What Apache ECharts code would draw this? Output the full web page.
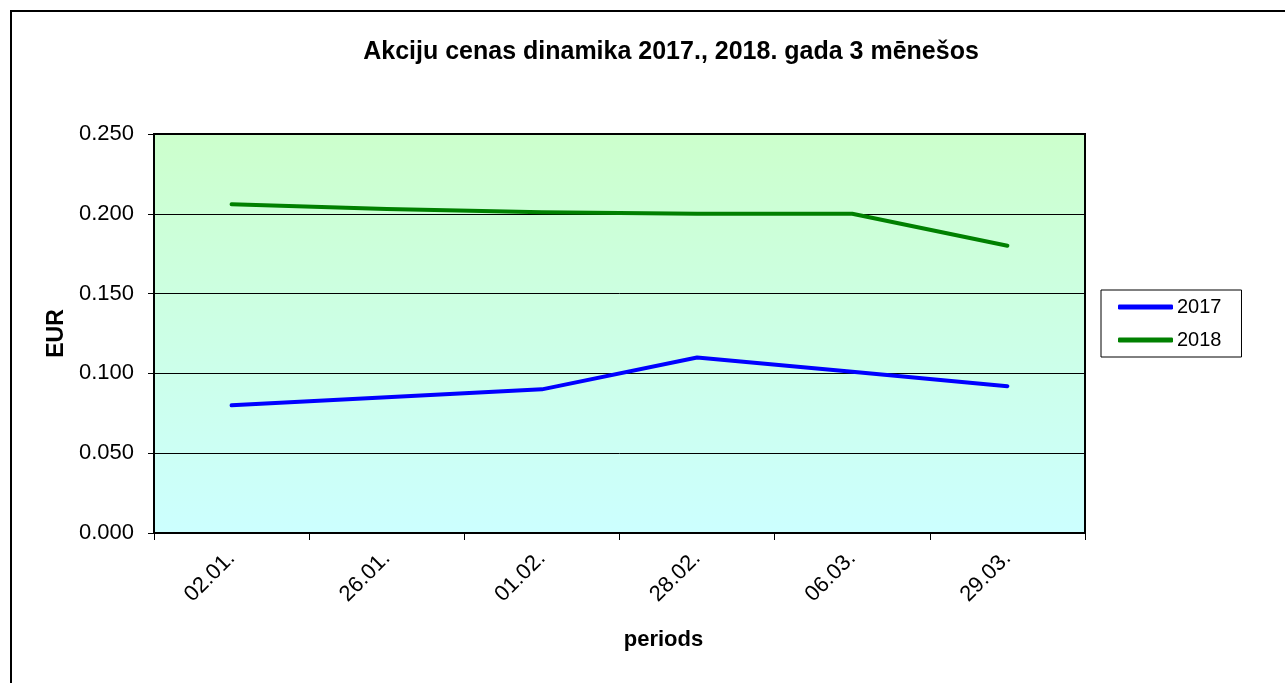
<!DOCTYPE html>
<html>
<head>
<meta charset="utf-8">
<script src="https://cdn.jsdelivr.net/npm/echarts@6/dist/echarts.min.js"></script>
<style>
html,body{margin:0;padding:0;background:#fff;}
#c{width:1285px;height:683px;}
</style>
</head>
<body>
<div id="c"></div>
<script>
var categories = ['02.01.', '26.01.', '01.02.', '28.02.', '06.03.', '29.03.'];
var values2017 = [0.080, 0.085, 0.090, 0.110, 0.101, 0.092];
var values2018 = [0.206, 0.203, 0.201, 0.200, 0.200, 0.180];
var yTicks = { min: 0, max: 0.25, interval: 0.05 };

var FONT = '"Liberation Sans", Arial, sans-serif';
var chart = echarts.init(document.getElementById('c'));
chart.setOption({
  animation: false,
  backgroundColor: '#fff',
  title: {
    text: 'Akciju cenas dinamika 2017., 2018. gada 3 mēnešos',
    left: 666,
    textAlign: 'center',
    top: 35,
    textStyle: { fontFamily: FONT, fontSize: 25, fontWeight: 'bold', color: '#000' }
  },
  graphic: [{
    type: 'rect',
    shape: { x: 11, y: 11, width: 1400, height: 800 },
    style: { fill: 'none', stroke: '#000', lineWidth: 2 },
    silent: true
  }],
  legend: {
    orient: 'vertical',
    left: 1101,
    top: 290,
    padding: [6, 20, 6, 17],
    itemWidth: 55,
    itemHeight: 5,
    itemGap: 11,
    icon: 'roundRect',
    borderColor: '#000',
    borderWidth: 1,
    backgroundColor: '#fff',
    textStyle: { fontFamily: FONT, fontSize: 20, color: '#000', lineHeight: 22, padding: [0, 0, 0, -1] },
    data: ['2017', '2018']
  },
  grid: {
    left: 154, top: 134, width: 931, height: 399,
    show: true,
    borderColor: '#000',
    borderWidth: 2,
    backgroundColor: {
      type: 'linear', x: 0, y: 0, x2: 0, y2: 1,
      colorStops: [{ offset: 0, color: '#CCFFCC' }, { offset: 1, color: '#CCFFFF' }]
    },
    containLabel: false
  },
  xAxis: {
    type: 'category',
    data: categories,
    boundaryGap: true,
    name: 'periods',
    nameLocation: 'middle',
    nameGap: 96,
    nameTextStyle: { fontFamily: FONT, fontSize: 22, fontWeight: 'bold', color: '#000', padding: [0, 0, 0, 88] },
    axisLine: { lineStyle: { color: '#000', width: 2 } },
    axisTick: { show: true, length: 7, lineStyle: { color: '#000', width: 1 } },
    axisLabel: { rotate: 45, margin: 22, fontFamily: FONT, fontSize: 22, color: '#000' },
    splitLine: { show: false }
  },
  yAxis: {
    type: 'value',
    min: yTicks.min,
    max: yTicks.max,
    interval: yTicks.interval,
    name: 'EUR',
    nameLocation: 'middle',
    nameRotate: 90,
    nameGap: 86,
    nameTextStyle: { fontFamily: FONT, fontSize: 23, fontWeight: 'bold', color: '#000' },
    axisLine: { show: true, lineStyle: { color: '#000', width: 2 } },
    axisTick: { show: true, length: 6, lineStyle: { color: '#000', width: 1 } },
    axisLabel: { margin: 20, fontFamily: FONT, fontSize: 22, color: '#000',
      formatter: function (v) { return v.toFixed(3); } },
    splitLine: { show: true, lineStyle: { color: '#000', width: 1 } }
  },
  series: [{
    name: '2017',
    type: 'line',
    data: values2017,
    showSymbol: false,
    symbol: 'none',
    itemStyle: { color: '#0000FF' },
    lineStyle: { color: '#0000FF', width: 4, cap: 'round', join: 'round' }
  }, {
    name: '2018',
    type: 'line',
    data: values2018,
    showSymbol: false,
    symbol: 'none',
    itemStyle: { color: '#008000' },
    lineStyle: { color: '#008000', width: 4, cap: 'round', join: 'round' }
  }]
});
</script>
</body>
</html>
